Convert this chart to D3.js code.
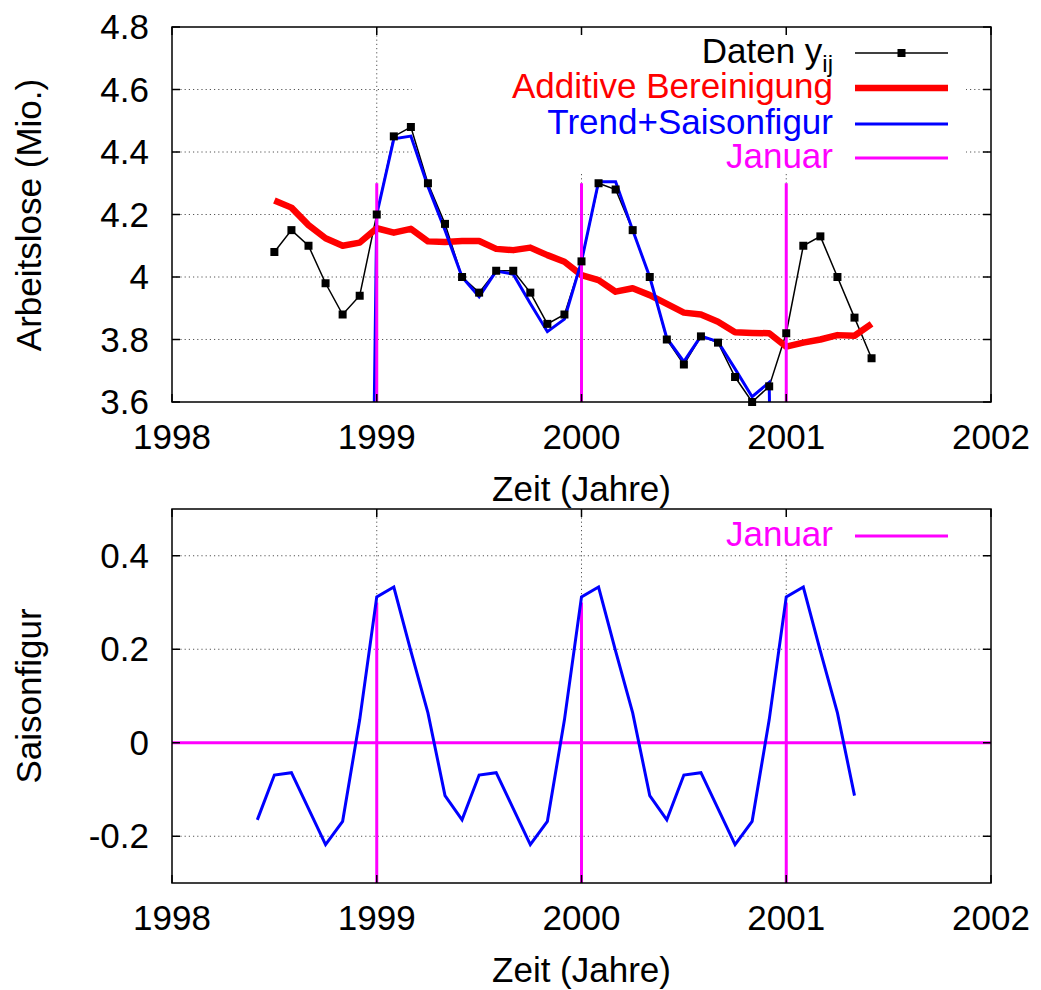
<!DOCTYPE html>
<html>
<head>
<meta charset="utf-8">
<script src="https://cdn.jsdelivr.net/npm/d3@7"></script>
<style>
  html, body { margin: 0; padding: 0; background: #fff; }
  svg text { font-family: "Liberation Sans", Arial, Helvetica, sans-serif; }
</style>
</head>
<body>
<svg id="chart" width="1041" height="990"></svg>
<script>
// ---------- data ----------
// monthly data Jul 1998 .. Jun 2001
const dataStart = 1998.5;
const datenY = [4.08, 4.15, 4.10, 3.98, 3.88, 3.94,
  4.20, 4.45, 4.48, 4.30, 4.17, 4.00, 3.95, 4.02, 4.02, 3.95, 3.85, 3.88,
  4.05, 4.30, 4.28, 4.15, 4.00, 3.80, 3.72, 3.81, 3.79, 3.68, 3.60, 3.65,
  3.82, 4.10, 4.13, 4.00, 3.87, 3.74];
const additiv = [4.245, 4.222, 4.166, 4.124, 4.100, 4.110,
  4.156, 4.142, 4.154, 4.114, 4.112, 4.115, 4.115, 4.090, 4.086, 4.094, 4.070, 4.049,
  4.006, 3.990, 3.953, 3.964, 3.942, 3.914, 3.886, 3.880, 3.857, 3.823, 3.821, 3.820,
  3.777, 3.790, 3.800, 3.814, 3.812, 3.850];
// Trend+Saisonfigur: Dec 1998 .. Jan 2001 (ends are 0 -> off scale)
const trendStart = 1998 + 11 / 12;
const trendSaison = [0,
  4.20, 4.442, 4.451, 4.29, 4.15, 4.00, 3.937, 4.019, 4.009, 3.915, 3.825, 3.865,
  4.05, 4.305, 4.305, 4.15, 4.00, 3.804, 3.729, 3.811, 3.793, 3.706, 3.617, 3.663,
  0];
// Saisonfigur Jun 1998 .. May 2001
const saisonStart = 1998 + 5 / 12;
const saison = [-0.165, -0.069, -0.064, -0.141, -0.218, -0.168, 0.049,
  0.312, 0.333, 0.196, 0.064, -0.113, -0.165, -0.069, -0.064, -0.141, -0.218, -0.168, 0.049,
  0.312, 0.333, 0.196, 0.064, -0.113, -0.165, -0.069, -0.064, -0.141, -0.218, -0.168, 0.049,
  0.312, 0.333, 0.196, 0.064, -0.113];
const januarYears = [1999, 2000, 2001];
const januarTopRange = [3.6, 4.3];
const januarBotRange = [-0.3, 0.3];
const xTicks = [1998, 1999, 2000, 2001, 2002];
const yTopTicks = [3.6, 3.8, 4.0, 4.2, 4.4, 4.6, 4.8];
const yTopLabels = ["3.6", "3.8", "4", "4.2", "4.4", "4.6", "4.8"];
const yBotTicks = [-0.2, 0, 0.2, 0.4];
const yBotLabels = ["-0.2", "0", "0.2", "0.4"];
const legendTop = ["Daten y", "Additive Bereinigung", "Trend+Saisonfigur", "Januar"];
const legendBot = ["Januar"];

// ---------- setup ----------
const svg = d3.select("#chart");
const FS = 35;
const L = 172, R = 991;
const x = d3.scaleLinear().domain([1998, 2002]).range([L, R]);
const yTop = d3.scaleLinear().domain([3.6, 4.8]).range([402, 27]);
const yBot = d3.scaleLinear().domain([-0.3, 0.5]).range([883, 509]);

const COL = { black: "#000", red: "#ff0000", blue: "#0000ff", mag: "#ff00ff", grid: "#555" };

function series(start, vals) { return vals.map((v, i) => [start + i / 12, v]); }

function drawPanel(y, yTicks, yLabels, opts) {
  const g = svg.append("g");
  const [yb, yt] = y.range();
  const clipId = "clip" + opts.id;
  svg.append("clipPath").attr("id", clipId).append("rect")
    .attr("x", L).attr("y", yt).attr("width", R - L).attr("height", yb - yt);

  // grid
  const grid = g.append("g").attr("stroke", COL.grid).attr("stroke-width", 1)
    .attr("stroke-dasharray", "1.2,3");
  yTicks.forEach(t => {
    if (y(t) <= yt + 0.5 || y(t) >= yb - 0.5) return;
    grid.append("line").attr("x1", L).attr("x2", R).attr("y1", y(t)).attr("y2", y(t));
  });
  xTicks.forEach(t => {
    if (t === 1998 || t === 2002) return;
    grid.append("line").attr("x1", x(t)).attr("x2", x(t)).attr("y1", yt).attr("y2", yb);
  });

  // opaque key box
  g.append("rect").attr("x", opts.keyBox[0]).attr("y", opts.keyBox[1])
    .attr("width", opts.keyBox[2]).attr("height", opts.keyBox[3]).attr("fill", "#fff");

  const data = g.append("g").attr("clip-path", `url(#${clipId})`);
  opts.drawData(data, g);

  // frame + ticks
  g.append("rect").attr("x", L).attr("y", yt).attr("width", R - L).attr("height", yb - yt)
    .attr("fill", "none").attr("stroke", "#000").attr("stroke-width", 1.5);
  const tl = 8;
  yTicks.forEach((t, i) => {
    g.append("line").attr("x1", L).attr("x2", L + tl).attr("y1", y(t)).attr("y2", y(t)).attr("stroke", "#000").attr("stroke-width", 1.5);
    g.append("line").attr("x1", R).attr("x2", R - tl).attr("y1", y(t)).attr("y2", y(t)).attr("stroke", "#000").attr("stroke-width", 1.5);
    g.append("text").attr("x", 149).attr("y", y(t) + 12).attr("text-anchor", "end")
      .attr("font-size", FS).text(yLabels[i]);
  });
  xTicks.forEach(t => {
    g.append("line").attr("x1", x(t)).attr("x2", x(t)).attr("y1", yb).attr("y2", yb - tl).attr("stroke", "#000").attr("stroke-width", 1.5);
    g.append("line").attr("x1", x(t)).attr("x2", x(t)).attr("y1", yt).attr("y2", yt + tl).attr("stroke", "#000").attr("stroke-width", 1.5);
    g.append("text").attr("x", x(t)).attr("y", yb + 47).attr("text-anchor", "middle")
      .attr("font-size", FS).text(String(t));
  });
  g.append("text").attr("x", (L + R) / 2).attr("y", yb + 99).attr("text-anchor", "middle")
    .attr("font-size", FS).text("Zeit (Jahre)");
  g.append("text").attr("transform", `translate(41,${opts.ylabelY}) rotate(-90)`)
    .attr("text-anchor", "middle").attr("font-size", FS).text(opts.ylabel);
  return g;
}

// ---------- top panel ----------
const topRowY = [53, 88, 124, 158];
drawPanel(yTop, yTopTicks, yTopLabels, {
  id: "top", ylabel: "Arbeitslose (Mio.)", ylabelY: 215,
  keyBox: [412, 29, 554, 145],
  drawData: (d, g) => {
    const line = d3.line().x(p => x(p[0])).y(p => yTop(p[1]));
    const dat = series(dataStart, datenY);
    d.append("path").attr("d", line(dat)).attr("fill", "none").attr("stroke", COL.black).attr("stroke-width", 1.5);
    d.append("path").attr("d", line(series(dataStart, additiv))).attr("fill", "none")
      .attr("stroke", COL.red).attr("stroke-width", 6.5).attr("stroke-linejoin", "round");
    g.selectAll(".sq").data(dat).enter().append("rect")
      .attr("x", p => x(p[0]) - 4).attr("y", p => yTop(p[1]) - 4)
      .attr("width", 8).attr("height", 8).attr("fill", COL.black);
    d.append("path").attr("d", line(series(trendStart, trendSaison))).attr("fill", "none")
      .attr("stroke", COL.blue).attr("stroke-width", 3);
    januarYears.forEach(yr => {
      d.append("line").attr("x1", x(yr)).attr("x2", x(yr))
        .attr("y1", yTop(januarTopRange[0])).attr("y2", yTop(januarTopRange[1]))
        .attr("stroke", COL.mag).attr("stroke-width", 3);
    });
  }
});
// legend top
const legColors = [COL.black, COL.red, COL.blue, COL.mag];
const legWidths = [1.5, 6.5, 3, 3];
legendTop.forEach((t, i) => {
  const yy = topRowY[i];
  const tx = svg.append("text").attr("x", 833).attr("y", yy + 10).attr("text-anchor", "end")
    .attr("font-size", FS).attr("fill", legColors[i]);
  tx.append("tspan").text(t);
  if (i === 0) tx.append("tspan").attr("font-size", 24).attr("dy", 9).text("ij");
  svg.append("line").attr("x1", 855).attr("x2", 948).attr("y1", yy).attr("y2", yy)
    .attr("stroke", legColors[i]).attr("stroke-width", legWidths[i]);
  if (i === 0) svg.append("rect").attr("x", 897.5).attr("y", yy - 4).attr("width", 8).attr("height", 8).attr("fill", COL.black);
});

// ---------- bottom panel ----------
drawPanel(yBot, yBotTicks, yBotLabels, {
  id: "bot", ylabel: "Saisonfigur", ylabelY: 696,
  keyBox: [700, 510, 266, 43],
  drawData: (d) => {
    const line = d3.line().x(p => x(p[0])).y(p => yBot(p[1]));
    januarYears.forEach(yr => {
      d.append("line").attr("x1", x(yr)).attr("x2", x(yr))
        .attr("y1", yBot(januarBotRange[0])).attr("y2", yBot(januarBotRange[1]))
        .attr("stroke", COL.mag).attr("stroke-width", 3);
    });
    d.append("line").attr("x1", L).attr("x2", R).attr("y1", yBot(0)).attr("y2", yBot(0))
      .attr("stroke", COL.mag).attr("stroke-width", 3);
    d.append("path").attr("d", line(series(saisonStart, saison))).attr("fill", "none")
      .attr("stroke", COL.blue).attr("stroke-width", 3);
  }
});
svg.append("text").attr("x", 833).attr("y", 536 + 10).attr("text-anchor", "end")
  .attr("font-size", FS).attr("fill", COL.mag).text(legendBot[0]);
svg.append("line").attr("x1", 855).attr("x2", 948).attr("y1", 536).attr("y2", 536)
  .attr("stroke", COL.mag).attr("stroke-width", 3);
</script>
</body>
</html>
